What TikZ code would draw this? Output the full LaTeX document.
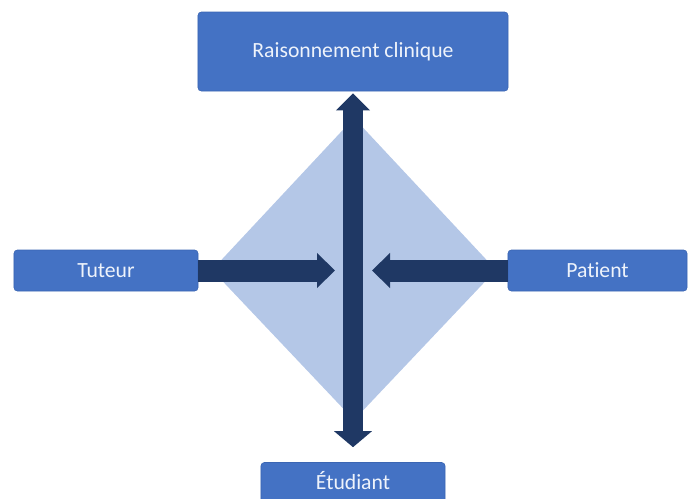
\documentclass[tikz,border=0pt]{standalone}
\usepackage{fontspec}
\setmainfont{Carlito}[Ligatures=NoCommon]
\usetikzlibrary{positioning, arrows.meta}

\definecolor{boxblue}{HTML}{4472C4}
\definecolor{boxline}{HTML}{3B66B3}
\definecolor{navy}{HTML}{1F3864}
\definecolor{losange}{HTML}{B4C7E7}
\definecolor{clair}{HTML}{EEF3FB}

\begin{document}
\begin{tikzpicture}[
    x=0.03cm, y=-0.03cm,
    bloc/.style={draw=boxline, line width=0.5pt, fill=boxblue, rounded corners=0.1cm,
        text=clair, font=\fontsize{18.5}{22}\selectfont, inner sep=0pt,
        minimum height=1.23cm},
    fleche/.style={navy, line width=0.66cm, -{Triangle[width=1.02cm, length=0.54cm]}},
    axe/.style={navy, line width=0.6cm,
        {Triangle[width=0.99cm, length=0.51cm]}-{Triangle[width=1.11cm, length=0.48cm]}},
]
\useasboundingbox (0,0) rectangle (688,499);

% losange de fond
\fill[losange] (354,118) -- (496,270) -- (354,420) -- (212,270) -- cycle;

\node[bloc, minimum width=9.3cm, minimum height=2.37cm] (raison) at (353,51.5) {Raisonnement clinique};
\node[bloc, minimum width=5.52cm] (tuteur) at (106,270.5) {Tuteur};
\node[bloc, minimum width=5.37cm] (patient) at (597.5,270.5) {Patient};
\node[bloc, minimum width=5.52cm] (etudiant) at (353,483) {\raisebox{0.14cm}{Étudiant}};

\coordinate (centre) at (353,270.5);

\draw[axe, shorten <=0.06cm, shorten >=0.45cm] (raison.south) -- (etudiant.north);
\draw[fleche, shorten >=0.54cm] (tuteur.east) -- (centre);
\draw[fleche, shorten >=0.57cm] (patient.west) -- (centre);

\end{tikzpicture}
\end{document}
